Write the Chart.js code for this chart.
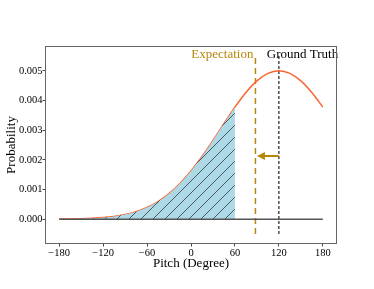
<!DOCTYPE html>
<html>
<head>
<meta charset="utf-8">
<script src="https://cdn.jsdelivr.net/npm/chart.js@4/dist/chart.umd.min.js"></script>
<style>
  html, body { margin: 0; padding: 0; background: #fff; }
  #wrap { width: 374px; height: 289px; }
</style>
</head>
<body>
<div id="wrap"><canvas id="chart"></canvas></div>
<script>
// pitch angles (degrees) and probability
const pitch = [-180, -165, -150, -135, -120, -105, -90, -75, -60, -45, -30, -15, 0,
               15, 30, 45, 60, 75, 90, 105, 120, 135, 150, 165, 180];
const prob = [0.0000044, 0.0000088, 0.0000168, 0.0000311, 0.0000555, 0.0000958, 0.000160,
              0.000256, 0.000398, 0.000596, 0.000862, 0.001204, 0.001623, 0.002113,
              0.002655, 0.003222, 0.003774, 0.004268, 0.004660, 0.004913, 0.005000,
              0.004913, 0.004660, 0.004268, 0.003774];
const shadedUpTo = 60;        // hatched area ends here
const expectation = 88;
const groundTruth = 120;
const arrowY = 0.00213;
const arrowTo = 90;
const vLineRange = [-0.0005, 0.0055];
const xTicks = [-180, -120, -60, 0, 60, 120, 180];
const yTicks = [0, 0.001, 0.002, 0.003, 0.004, 0.005];

const GOLD = '#b8860b';
const SERIF = '"Liberation Serif", "Times New Roman", serif';

function hatchPattern() {
    const c = document.createElement('canvas');
    c.width = 12; c.height = 12;
    const g = c.getContext('2d');
    g.fillStyle = '#add8e6';
    g.fillRect(0, 0, 12, 12);
    g.strokeStyle = '#3a4a50';
    g.lineWidth = 0.9;
    g.beginPath();
    g.moveTo(-1, 13); g.lineTo(13, -1);
    g.moveTo(-7, 7); g.lineTo(7, -7);
    g.moveTo(5, 19); g.lineTo(19, 5);
    g.stroke();
    return g.createPattern(c, 'repeat');
}

const shadedPts = pitch.map((x, i) => ({ x: x, y: prob[i] })).filter(p => p.x <= shadedUpTo);
const curvePts = pitch.map((x, i) => ({ x: x, y: prob[i] }));

const extras = {
    id: 'extras',
    afterDatasetsDraw(chart) {
        const { ctx, chartArea, scales } = chart;
        const xs = scales.x, ys = scales.y;
        ctx.save();
        // arrow from ground truth toward expectation
        const x0 = xs.getPixelForValue(groundTruth), x1 = xs.getPixelForValue(arrowTo);
        const yy = ys.getPixelForValue(arrowY);
        ctx.strokeStyle = GOLD; ctx.fillStyle = GOLD; ctx.lineWidth = 2;
        ctx.beginPath(); ctx.moveTo(x0, yy); ctx.lineTo(x1 + 7, yy); ctx.stroke();
        ctx.beginPath(); ctx.moveTo(x1, yy); ctx.lineTo(x1 + 8, yy - 4); ctx.lineTo(x1 + 8, yy + 4); ctx.closePath(); ctx.fill();
        // labels
        ctx.font = '13px ' + SERIF;
        ctx.textBaseline = 'middle';
        const ty = ys.getPixelForValue(0.00556);
        ctx.fillStyle = GOLD; ctx.textAlign = 'right';
        ctx.fillText('Expectation', xs.getPixelForValue(expectation) - 2, ty);
        ctx.fillStyle = '#000'; ctx.textAlign = 'left';
        ctx.fillText('Ground Truth', xs.getPixelForValue(103.5), ty);
        // frame
        ctx.strokeStyle = '#666'; ctx.lineWidth = 1;
        ctx.strokeRect(Math.round(chartArea.left) - 0.5, Math.round(chartArea.top) - 0.5,
            Math.round(chartArea.right - chartArea.left) + 1, Math.round(chartArea.bottom - chartArea.top) + 1);
        ctx.restore();
    }
};

new Chart(document.getElementById('chart'), {
    type: 'scatter',
    data: {
        datasets: [
            { data: [{ x: -180, y: 0 }, { x: 180, y: 0 }], showLine: true, borderColor: '#555', borderWidth: 1.5, pointRadius: 0 },
            { data: shadedPts, showLine: true, borderWidth: 0, borderColor: 'rgba(0,0,0,0)', backgroundColor: hatchPattern(), fill: 'origin', tension: 0.4, cubicInterpolationMode: 'monotone', pointRadius: 0 },
            { data: curvePts, showLine: true, borderColor: '#fa6432', borderWidth: 1.5, pointRadius: 0, tension: 0.4, cubicInterpolationMode: 'monotone' },
            { data: vLineRange.map(v => ({ x: expectation, y: v })), showLine: true, borderColor: GOLD, borderWidth: 1.5, borderDash: [6, 4], pointRadius: 0 },
            { data: vLineRange.map(v => ({ x: groundTruth, y: v })), showLine: true, borderColor: '#222', borderWidth: 1.2, borderDash: [3, 2], pointRadius: 0 }
        ]
    },
    options: {
        responsive: true,
        maintainAspectRatio: false,
        animation: false,
        layout: { padding: { top: 47, right: 38, bottom: 18, left: 0 } },
        plugins: { legend: { display: false }, tooltip: { enabled: false } },
        scales: {
            x: {
                type: 'linear', min: -198, max: 198,
                afterBuildTicks: s => { s.ticks = xTicks.map(v => ({ value: v })); },
                afterFit: s => { s.height = 28; },
                grid: { drawOnChartArea: false, drawTicks: true, tickLength: 3.5, color: '#444' },
                border: { display: false },
                ticks: { padding: 0, maxRotation: 0, color: '#000', font: { family: SERIF, size: 10.5 },
                         callback: v => String(v).replace('-', '\u2212') },
                title: { display: true, text: 'Pitch (Degree)', color: '#000', padding: 0, font: { family: SERIF, size: 13 } }
            },
            y: {
                type: 'linear', min: -0.0008, max: 0.0058,
                afterBuildTicks: s => { s.ticks = yTicks.map(v => ({ value: v })); },
                afterFit: s => { s.width = 46; },
                grid: { drawOnChartArea: false, drawTicks: true, tickLength: 3.5, color: '#444' },
                border: { display: false },
                ticks: { padding: 0, color: '#000', font: { family: SERIF, size: 10.5 },
                         callback: v => v.toFixed(3) },
                title: { display: true, text: 'Probability', color: '#000', padding: { top: 4, bottom: 0 }, font: { family: SERIF, size: 13 } }
            }
        }
    },
    plugins: [extras]
});
</script>
</body>
</html>
